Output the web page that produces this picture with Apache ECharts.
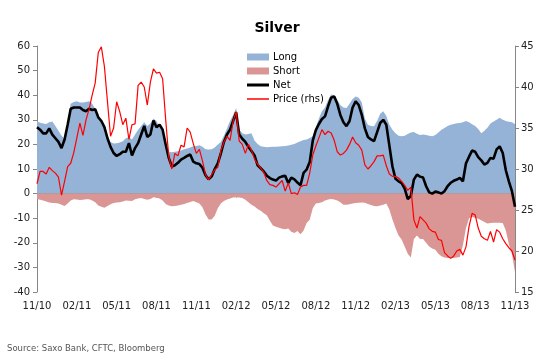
<!DOCTYPE html>
<html>
<head>
<meta charset="utf-8">
<script src="https://cdn.jsdelivr.net/npm/echarts@6/dist/echarts.min.js"></script>
<style>
html,body{margin:0;padding:0;background:#fff;}
#chart{width:554px;height:360px;}
</style>
</head>
<body>
<div id="chart"></div>
<script>
// Tick labels on the x axis (every 13 weeks)
const tickLabels = ['11/10','02/11','05/11','08/11','11/11','02/12','05/12','08/12','11/12','02/13','05/13','08/13','11/13'];

// Weekly positioning (% of OI, left axis)
const longPos = [29.4,28.8,28.5,28.3,29,29.3,27.5,25.5,23.5,22.3,29,36.5,37.2,37.5,37,37,37.2,37.5,36.5,34.5,
32.5,28.5,26.5,22.5,21,20.4,20.5,20.8,21.3,22.5,23,22,24,26,27.5,29,27.5,28.5,30.5,29.5,
27,26.5,20,17,16.8,17,17.2,17.5,18,18.3,18.7,19.2,19.4,19.7,19,18,17.9,18,18.7,20,
21,23.5,26.5,29.5,32,34.8,26,24.5,24,24.2,24.5,21.5,20.2,19.2,19,18.8,18.9,19,19,19.1,
19.2,19.4,19.6,19.9,20.2,20.8,21.3,21.8,22,22.6,23.3,27,30.5,33.5,35,38,40.3,40,38,36,
35,34.8,36.5,38.5,39.5,39,37,30.5,28,27.5,27.4,29.5,32.5,33.5,31.5,28,26,24.5,23.5,23.3,
23.5,24.2,24.8,25,24.3,23.8,24,23.8,23.5,23.3,23.8,24.8,26,26.7,27.5,28,28.3,28.6,28.7,29,
29.5,29,28.2,27.5,26.3,24.5,25.5,26.8,28.5,29.3,30,30.8,30,29.5,29.2,29,28.3];

const shortPos = [-2.2,-2.5,-2.8,-3.2,-3.6,-3.8,-3.8,-4,-4.5,-5,-4,-2.8,-2.3,-2.4,-2.6,-2.5,-2.3,-2.3,-2.8,-3.5,
-4.8,-5.3,-5.8,-5,-4.3,-3.8,-3.6,-3.5,-3.2,-2.8,-2.9,-3,-2.3,-2,-1.8,-2.2,-2.5,-2.2,-1.5,-1.7,
-2,-2.8,-4.2,-4.8,-5.1,-5,-4.8,-4.5,-4.2,-3.8,-3.4,-3,-3.5,-4,-5.5,-8.5,-10.5,-10.5,-9,-6,
-4,-3,-2.4,-2,-1.6,-1.5,-1.6,-1.8,-2.5,-3.5,-4.5,-5.2,-6.3,-7,-8,-8.8,-11,-13,-13.5,-13.9,
-14.3,-14.5,-14.2,-15.5,-16,-15.2,-16.5,-15,-12,-10.6,-6,-4,-3.8,-3.5,-2.8,-2.4,-2.2,-2.4,-2.8,-3.5,
-4.5,-4.5,-4.3,-4,-3.8,-3.7,-3.6,-3.7,-4.2,-4.6,-5,-5.1,-4.8,-4.5,-4,-6.5,-10.5,-14,-17,-18.7,
-21.5,-24.5,-26,-18.5,-17,-18.5,-18.5,-20,-21.5,-22.3,-22.8,-24.5,-25.5,-26,-26.2,-26.2,-26.2,-26,-25.8,-21,
-14,-10,-9.5,-9.8,-10.2,-10.8,-11.5,-12.2,-12,-11.8,-11.8,-11.8,-12,-15,-20.5,-24.5,-32];

const netPos = [27,26,24.5,24.5,26.5,24,22.5,21,18.5,22,28,34.5,35,35,35,34,33.5,34.5,34,34.3,
31,29.5,27,22.5,19,16.5,15.3,16,17,17,20.5,15.5,18.5,20.5,24,27.5,23,24,29.7,27,
28,26,20,14.5,11,11.5,12.5,13.8,14.5,15.3,15.9,13,12.3,12,10.5,7.5,5.8,7,10,12.3,
16.3,21,24,26,29.5,33,24,22.3,21,19,17.3,15.5,11.5,10.3,9,7.3,6.3,5.7,5.3,6.5,
7,7.2,4.3,6.5,5.8,4.5,3.4,8.4,9.8,12.8,21.5,25.8,28.3,30.3,31.4,35.5,39,39.5,36.5,32,
29,27.4,29.5,35,37.5,36,32,26.5,23,22,21.3,25,28.7,30,28,19.5,11,6,5,4.3,
2,-2.2,-1,5.7,7.7,6.9,6.5,3,0.5,0,0.8,0.5,0,1,3,4.4,5.2,5.7,6.4,5,
12.3,15,17.5,17,14.8,13.5,11.8,12.5,14.5,14.2,18,19.2,16.5,9.5,5,1,-5.3];

// Silver price (USD/oz, right axis)
const price = [28.2,29.7,29.7,29.4,30.2,29.8,29.5,29,26.8,28.5,30.3,30.7,32,33.8,35.6,34.1,36,37.3,39,40.5,
44.2,44.9,42.5,38.2,34,35,38.2,37,35.4,36.2,33.6,35.4,35.5,40.2,40.6,40,37.8,40.6,42.2,41.7,
41.8,41,36,31.5,30,31.9,31.6,32.9,32.7,35,34.5,33.1,31.9,32.4,31,29.3,28.7,29.3,29.9,30.2,
32.2,33.3,34,33.5,35.8,37,33.4,33,31.9,33,32.3,31.2,30.6,30.1,29.6,28.6,28.1,28,27.8,28.2,
28.6,27.3,28.3,27,27.1,26.9,27.8,28,28,29.5,31.7,32.8,33.8,34.8,34.2,34.6,34.4,33.5,32.1,31.7,
31.9,32.3,33,33.9,33.2,32.9,32.3,30.5,30,30.4,30.9,31.6,31.6,31.7,30.4,29.4,29.1,29.1,28.9,28.5,
28,27.4,27.8,23.8,22.8,24.2,23.8,23.4,22.7,22.4,22.3,21.4,21.3,19.8,19.4,19.1,19.4,20,20.2,19.5,
20.5,23,24.6,24.4,22.8,21.8,21.5,21.3,22.4,21.1,22.6,22.3,21.5,20.9,20.4,20,18.9];

// Weekly category dates starting 2 Nov 2010
const start = Date.UTC(2010, 10, 2);
const categories = longPos.map((_, i) => {
  const d = new Date(start + i * 7 * 86400000);
  return d.toISOString().slice(0, 10);
});

const FONT = 'DejaVu Sans';
const chart = echarts.init(document.getElementById('chart'), null, {renderer: 'canvas'});

const legendBase = {
  orient: 'vertical', left: 242, icon: 'rect', itemWidth: 22, itemGap: 0,
  padding: 5, selectedMode: false,
  textStyle: {fontSize: 10, fontFamily: FONT, color: '#000', padding: [0, 0, 0, -1]}
};

chart.setOption({
  animation: false,
  backgroundColor: '#fff',
  title: {
    text: 'Silver', left: 'center', top: 16,
    textStyle: {fontSize: 14, fontWeight: 'bold', fontFamily: FONT, color: '#000'}
  },
  graphic: [{
    type: 'text', left: 7, top: 344,
    style: {text: 'Source: Saxo Bank, CFTC, Bloomberg', fontSize: 8.5, fontFamily: FONT, fill: '#555'}
  }],
  legend: [
    Object.assign({}, legendBase, {data: ['Long'], top: 47, itemHeight: 7}),
    Object.assign({}, legendBase, {data: ['Short'], top: 61, itemHeight: 7}),
    Object.assign({}, legendBase, {data: ['Net'], top: 75, itemHeight: 3}),
    Object.assign({}, legendBase, {data: ['Price (rhs)'], top: 89, itemHeight: 1.5})
  ],
  grid: {left: 37, right: 39, top: 46, bottom: 68, containLabel: false},
  xAxis: [{
    type: 'category', data: categories, boundaryGap: false,
    axisLine: {onZero: true, lineStyle: {color: '#868686', width: 1}},
    axisTick: {show: true, interval: 12, length: 4, lineStyle: {color: '#868686'}},
    axisLabel: {show: false}
  }, {
    type: 'category', data: categories, boundaryGap: false, position: 'bottom',
    axisLine: {show: false, onZero: false}, axisTick: {show: false},
    axisLabel: {
      show: true, interval: 12, margin: 9,
      fontSize: 10, fontFamily: FONT, color: '#222',
      formatter: (v, idx) => tickLabels[Math.round(idx / 13)]
    }
  }],
  yAxis: [{
    type: 'value', min: -40, max: 60, interval: 10, position: 'left',
    axisLine: {show: true, lineStyle: {color: '#868686'}},
    axisTick: {show: true, length: 4, lineStyle: {color: '#868686'}},
    splitLine: {show: false},
    axisLabel: {fontSize: 10, fontFamily: FONT, color: '#222', margin: 7}
  }, {
    type: 'value', min: 15, max: 45, interval: 5, position: 'right',
    axisLine: {show: true, lineStyle: {color: '#868686'}},
    axisTick: {show: true, length: 4, lineStyle: {color: '#868686'}},
    splitLine: {show: false},
    axisLabel: {fontSize: 10, fontFamily: FONT, color: '#222', margin: 6}
  }],
  series: [{
    name: 'Long', type: 'line', data: longPos, symbol: 'none',
    lineStyle: {width: 0}, itemStyle: {color: '#95B3D7'},
    areaStyle: {color: '#95B3D7', opacity: 1}, z: 1
  }, {
    name: 'Short', type: 'line', data: shortPos, symbol: 'none',
    lineStyle: {width: 0}, itemStyle: {color: '#D99694'},
    areaStyle: {color: '#D99694', opacity: 1}, z: 1
  }, {
    name: 'Net', type: 'line', data: netPos, symbol: 'none',
    lineStyle: {width: 2.6, color: '#000'}, itemStyle: {color: '#000'}, z: 3
  }, {
    name: 'Price (rhs)', type: 'line', yAxisIndex: 1, data: price, symbol: 'none',
    lineStyle: {width: 1.2, color: '#FF0000'}, itemStyle: {color: '#FF0000'}, z: 4
  }]
});
</script>
</body>
</html>
